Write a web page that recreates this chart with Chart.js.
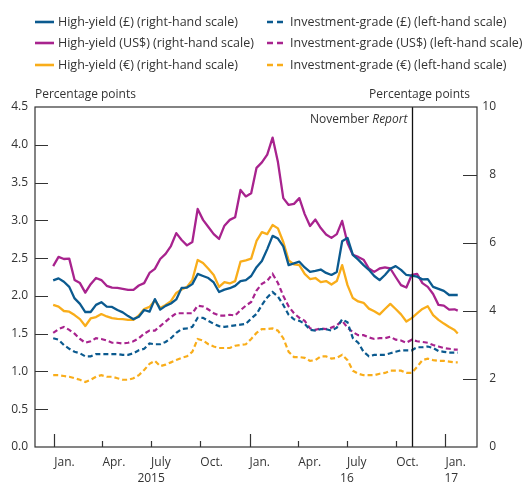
<!DOCTYPE html>
<html>
<head>
<meta charset="utf-8">
<script src="https://cdn.jsdelivr.net/npm/chart.js@4/dist/chart.umd.min.js"></script>
<style>
  html, body { margin: 0; padding: 0; background: #fff; }
  #wrap { position: relative; width: 531px; height: 484px; font-family: "Open Sans", sans-serif; color: #333; }
  #chart { position: absolute; left: 0; top: 0; }
  .item { position: absolute; height: 18px; display: flex; align-items: center; font-size: 12.5px; white-space: nowrap; line-height: 18px; }
  .item svg { display: block; }
</style>
</head>
<body>
<div id="wrap">
  <canvas id="chart" width="531" height="484"></canvas>
  <div id="legend"></div>
</div>
<script>
// ---- data ----
const dates = [
'2014-12-30','2015-01-09','2015-01-19','2015-01-29','2015-02-08','2015-02-18','2015-02-28','2015-03-10','2015-03-20','2015-03-30',
'2015-04-09','2015-04-19','2015-04-29','2015-05-09','2015-05-19','2015-05-29','2015-06-08','2015-06-18','2015-06-28','2015-07-08',
'2015-07-18','2015-07-28','2015-08-07','2015-08-17','2015-08-27','2015-09-06','2015-09-16','2015-09-26','2015-10-06','2015-10-16',
'2015-10-26','2015-11-05','2015-11-15','2015-11-25','2015-12-05','2015-12-15','2015-12-25','2016-01-04','2016-01-14','2016-01-24',
'2016-02-03','2016-02-13','2016-02-23','2016-03-04','2016-03-14','2016-03-24','2016-04-03','2016-04-13','2016-04-23','2016-05-03',
'2016-05-13','2016-05-23','2016-06-02','2016-06-12','2016-06-22','2016-07-02','2016-07-12','2016-07-22','2016-08-01','2016-08-11',
'2016-08-21','2016-08-31','2016-09-10','2016-09-20','2016-09-30','2016-10-10','2016-10-20','2016-10-30','2016-11-09','2016-11-19',
'2016-11-29','2016-12-09','2016-12-19','2016-12-29','2017-01-08','2017-01-18','2017-01-24'];

// High-yield spreads (right-hand scale)
const hyGBP = [4.90,4.96,4.86,4.71,4.37,4.21,3.97,3.97,4.18,4.26,
4.13,4.12,4.03,3.96,3.85,3.76,3.83,4.03,3.98,4.35,
4.04,4.15,4.22,4.34,4.68,4.69,4.79,5.09,5.03,4.97,
4.84,4.56,4.63,4.67,4.74,4.88,4.91,5.03,5.29,5.47,
5.82,6.21,6.13,5.90,5.35,5.40,5.45,5.28,5.15,5.18,
5.22,5.12,5.06,5.15,6.05,6.15,5.65,5.51,5.35,5.21,
5.03,4.91,5.06,5.24,5.32,5.21,5.06,5.04,5.01,4.93,
4.94,4.71,4.65,4.59,4.47,4.47,4.47];
const hyUSD = [5.32,5.59,5.53,5.54,4.91,4.82,4.54,4.79,4.97,4.91,
4.74,4.69,4.68,4.65,4.62,4.62,4.75,4.82,5.12,5.24,
5.53,5.68,5.91,6.29,6.09,5.93,6.03,7.00,6.68,6.47,
6.26,6.12,6.51,6.68,6.76,7.56,7.37,7.46,8.21,8.37,
8.60,9.10,8.38,7.32,7.12,7.15,7.32,6.85,6.50,6.69,
6.44,6.25,6.15,6.26,6.65,6.00,5.65,5.59,5.51,5.25,
5.15,5.25,5.28,5.25,5.00,4.76,4.69,5.06,5.09,4.82,
4.71,4.50,4.18,4.16,4.04,4.05,4.01];
const hyEUR = [4.18,4.13,4.00,3.98,3.88,3.76,3.56,3.78,3.82,3.91,
3.84,3.79,3.77,3.76,3.74,3.74,3.87,4.06,4.12,4.31,
4.09,4.18,4.29,4.53,4.63,4.71,4.91,5.50,5.41,5.24,
5.06,4.71,4.85,4.81,4.88,5.45,5.49,5.54,6.06,6.32,
6.26,6.53,6.43,6.03,5.49,5.37,5.35,5.09,4.94,4.97,
4.85,4.88,4.78,4.88,5.35,4.76,4.38,4.28,4.24,4.07,
3.99,3.90,4.06,4.21,4.06,3.90,3.69,3.79,3.93,4.06,
4.14,3.88,3.74,3.63,3.53,3.44,3.34];
// Investment-grade spreads (left-hand scale)
const igGBP = [1.44,1.42,1.35,1.30,1.26,1.24,1.20,1.20,1.23,1.23,
1.23,1.23,1.23,1.22,1.22,1.24,1.28,1.30,1.37,1.36,
1.36,1.39,1.44,1.51,1.56,1.57,1.59,1.71,1.71,1.67,
1.63,1.60,1.59,1.60,1.61,1.62,1.63,1.70,1.76,1.88,
1.98,2.05,1.99,1.88,1.75,1.69,1.67,1.63,1.55,1.54,
1.56,1.56,1.54,1.58,1.69,1.65,1.44,1.38,1.26,1.20,
1.22,1.22,1.22,1.24,1.26,1.28,1.28,1.28,1.32,1.32,
1.33,1.31,1.27,1.26,1.25,1.25,1.25];
const igUSD = [1.51,1.56,1.59,1.55,1.50,1.43,1.38,1.40,1.44,1.43,
1.41,1.38,1.38,1.37,1.38,1.40,1.44,1.50,1.54,1.54,
1.60,1.66,1.72,1.77,1.77,1.77,1.77,1.87,1.86,1.82,
1.77,1.74,1.74,1.75,1.74,1.81,1.87,1.92,2.07,2.16,
2.20,2.29,2.17,2.00,1.86,1.77,1.71,1.67,1.57,1.55,
1.57,1.56,1.58,1.61,1.67,1.58,1.52,1.48,1.48,1.45,
1.43,1.44,1.44,1.46,1.42,1.41,1.38,1.42,1.40,1.39,
1.38,1.35,1.33,1.31,1.30,1.29,1.29];
const igEUR = [0.95,0.95,0.94,0.93,0.91,0.89,0.86,0.89,0.93,0.95,
0.93,0.93,0.91,0.89,0.89,0.91,0.95,1.02,1.10,1.14,
1.07,1.09,1.12,1.15,1.18,1.20,1.26,1.43,1.41,1.36,
1.33,1.31,1.31,1.31,1.34,1.35,1.36,1.43,1.51,1.56,
1.56,1.57,1.54,1.44,1.26,1.19,1.19,1.18,1.14,1.15,
1.20,1.20,1.17,1.18,1.22,1.15,1.01,0.97,0.95,0.95,
0.95,0.97,0.98,1.01,1.01,1.01,0.98,0.98,1.06,1.15,
1.17,1.15,1.14,1.14,1.13,1.12,1.12];

// axis ticks / labels
const quarterDates = ['2015-01-01','2015-04-01','2015-07-01','2015-10-01','2016-01-01','2016-04-01','2016-07-01','2016-10-01','2017-01-01'];
const monthLabels  = ['Jan.','Apr.','July','Oct.','Jan.','Apr.','July','Oct.','Jan.'];
const yearDates    = ['2015-07-01','2016-07-01','2017-01-12'];
const yearLabels   = ['2015','16','17'];
const leftTicks  = [0,0.5,1.0,1.5,2.0,2.5,3.0,3.5,4.0,4.5];
const rightTicks = [0,2,4,6,8,10];
const reportDate = '2016-10-30';
const axisMinDate = '2014-11-26';
const axisMaxDate = '2017-03-01';

const legendItems = [
  {label:'High-yield (£) (right-hand scale)',        color:'#0b5a8f', dash:false},
  {label:'Investment-grade (£) (left-hand scale)',   color:'#0b5a8f', dash:true},
  {label:'High-yield (US$) (right-hand scale)',      color:'#a8238e', dash:false},
  {label:'Investment-grade (US$) (left-hand scale)', color:'#a8238e', dash:true},
  {label:'High-yield (€) (right-hand scale)',        color:'#f9ad1a', dash:false},
  {label:'Investment-grade (€) (left-hand scale)',   color:'#f9ad1a', dash:true}
];

// ---- helpers ----
const T0 = Date.UTC(2015,0,1);
function dayOf(s){ const p = s.split('-').map(Number); return (Date.UTC(p[0],p[1]-1,p[2]) - T0)/86400000; }
const xs = dates.map(dayOf);
const pts = arr => arr.map((v,i)=>({x:xs[i], y:v}));
const TXT = '#333';
const FONT = {family:'"Open Sans", sans-serif', size:12};

// ---- legend (HTML) ----
(function(){
  const lg = document.getElementById('legend');
  const colX = [35, 267];
  const rowY = [21.7, 43.3, 65];
  legendItems.forEach((it,i)=>{
    const c = i%2, r = Math.floor(i/2);
    const d = document.createElement('div');
    d.className = 'item';
    d.style.left = colX[c]+'px';
    d.style.top = (rowY[r]-9)+'px';
    const w = c===0 ? 19 : 17;
    d.innerHTML = '<svg width="'+w+'" height="6"><line x1="0" y1="3" x2="'+w+'" y2="3" stroke="'+it.color+'" stroke-width="2.6"'+
      (it.dash?' stroke-dasharray="6 4"':'')+'/></svg><span style="margin-left:'+(c===0?4:6)+'px">'+it.label+'</span>';
    lg.appendChild(d);
  });
})();

// ---- overlay plugin: frame, inward ticks, titles, report line ----
const overlay = {
  id:'overlay',
  afterDatasetsDraw(chart){
    const ctx = chart.ctx, a = chart.chartArea;
    const xS = chart.scales.x, yL = chart.scales.y, yR = chart.scales.y2;
    ctx.save();
    // report line
    const rx = Math.round(xS.getPixelForValue(dayOf(reportDate)))+0.5;
    ctx.strokeStyle = '#111'; ctx.lineWidth = 1.3;
    ctx.beginPath(); ctx.moveTo(rx, a.top); ctx.lineTo(rx, a.bottom); ctx.stroke();
    // frame
    ctx.strokeStyle = '#333'; ctx.lineWidth = 1.2;
    ctx.strokeRect(a.left, a.top, a.right-a.left, a.bottom-a.top);
    // inward ticks
    ctx.beginPath();
    leftTicks.forEach(v=>{ if(v>0 && v<4.5){ const y = Math.round(yL.getPixelForValue(v))+0.5; ctx.moveTo(a.left,y); ctx.lineTo(a.left+13,y);} });
    rightTicks.forEach(v=>{ if(v>0 && v<10){ const y = Math.round(yR.getPixelForValue(v))+0.5; ctx.moveTo(a.right,y); ctx.lineTo(a.right-14,y);} });
    quarterDates.forEach((d,i)=>{ const x = Math.round(xS.getPixelForValue(dayOf(d)))+0.5; const len = monthLabels[i]==='Jan.'?13:6; ctx.moveTo(x,a.bottom); ctx.lineTo(x,a.bottom-len); });
    ctx.stroke();
    // titles
    ctx.fillStyle = TXT;
    ctx.font = '12px "Open Sans", sans-serif';
    ctx.textBaseline = 'middle';
    ctx.textAlign = 'left';
    ctx.fillText('Percentage points', a.left, 95);
    ctx.textAlign = 'right';
    ctx.fillText('Percentage points', a.right-7, 95);
    // November Report label
    const tx = rx - 5, ty = a.top + 13;
    ctx.font = 'italic 12px "Open Sans", sans-serif';
    const wR = ctx.measureText('Report').width;
    ctx.fillText('Report', tx, ty);
    ctx.font = '12px "Open Sans", sans-serif';
    ctx.fillText('November ', tx - wR, ty);
    ctx.restore();
  }
};

const xMin = dayOf(axisMinDate), xMax = dayOf(axisMaxDate);
const solid = (label, arr, color) => ({label, data: pts(arr), yAxisID:'y2', borderColor:color, borderWidth:2.3, pointRadius:0, tension:0, fill:false, borderJoinStyle:'round'});
const dashed = (label, arr, color) => ({label, data: pts(arr), yAxisID:'y', borderColor:color, borderWidth:2.2, borderDash:[5,3], pointRadius:0, tension:0, fill:false});

new Chart(document.getElementById('chart'), {
  type:'line',
  data:{ datasets:[
    solid('High-yield (£) (right-hand scale)', hyGBP, '#0b5a8f'),
    solid('High-yield (US$) (right-hand scale)', hyUSD, '#a8238e'),
    solid('High-yield (€) (right-hand scale)', hyEUR, '#f9ad1a'),
    dashed('Investment-grade (£) (left-hand scale)', igGBP, '#0b5a8f'),
    dashed('Investment-grade (US$) (left-hand scale)', igUSD, '#a8238e'),
    dashed('Investment-grade (€) (left-hand scale)', igEUR, '#f9ad1a')
  ]},
  options:{
    responsive:false, animation:false, devicePixelRatio:1,
    layout:{ padding:{ top:107, left:0, right:35, bottom:0 } },
    plugins:{ legend:{display:false}, tooltip:{enabled:false} },
    scales:{
      x:{ type:'linear', position:'bottom', weight:0, min:xMin, max:xMax,
          grid:{display:false, drawTicks:false}, border:{display:false},
          afterBuildTicks: s => { s.ticks = quarterDates.map(d=>({value:dayOf(d)})); },
          ticks:{ autoSkip:false, maxRotation:0, minRotation:0, align:'start', padding:8, color:TXT, font:FONT,
                  callback:(v,i)=>monthLabels[i] },
          afterFit: s => { s.height = 22; } },
      xYear:{ type:'linear', position:'bottom', weight:1, min:xMin, max:xMax,
          grid:{display:false, drawTicks:false}, border:{display:false},
          afterBuildTicks: s => { s.ticks = yearDates.map(d=>({value:dayOf(d)})); },
          ticks:{ autoSkip:false, maxRotation:0, minRotation:0, padding:2, color:TXT, font:FONT,
                  callback:(v,i)=>yearLabels[i] },
          afterFit: s => { s.height = 15; } },
      y:{ position:'left', min:0, max:4.5,
          grid:{display:false, drawTicks:false}, border:{display:false},
          afterBuildTicks: s => { s.ticks = leftTicks.map(v=>({value:v})); },
          ticks:{ padding:7, color:TXT, font:FONT, callback:v=>Number(v).toFixed(1) },
          afterFit: s => { s.width = 35; } },
      y2:{ position:'right', min:0, max:10,
          grid:{display:false, drawTicks:false}, border:{display:false},
          afterBuildTicks: s => { s.ticks = rightTicks.map(v=>({value:v})); },
          ticks:{ padding:0, crossAlign:'far', color:TXT, font:FONT, callback:v=>String(v) },
          afterFit: s => { s.width = 19; } }
    }
  },
  plugins:[overlay]
});
</script>
</body>
</html>
